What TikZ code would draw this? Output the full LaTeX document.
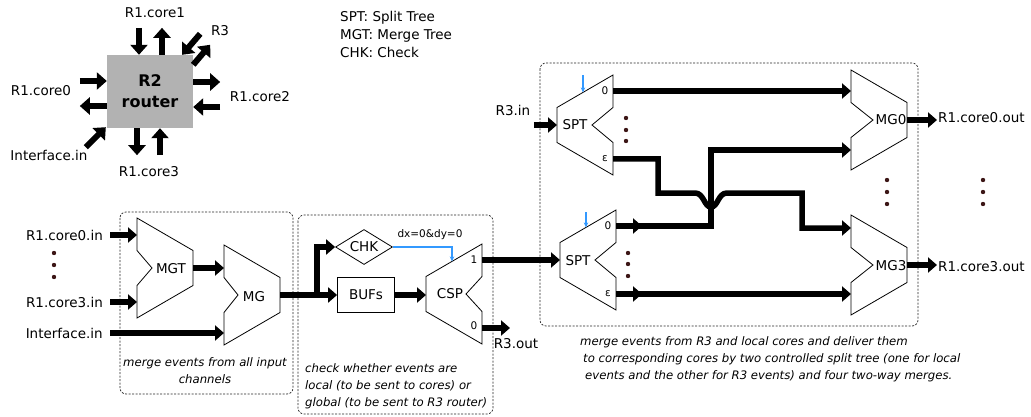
\documentclass[tikz,border=0pt]{standalone}
\usepackage{fontspec}
\setmainfont{DejaVu Sans}
\usetikzlibrary{arrows.meta,positioning,shapes.geometric}
\definecolor{ctrlblue}{RGB}{51,153,255}
\definecolor{dotcol}{RGB}{60,22,22}
\newcommand{\portfont}{\fontsize{10.5}{12}\selectfont}
\newcommand{\remarkfont}{\fontsize{11.7}{17}\selectfont\itshape}
\tikzset{
  font=\fontsize{13.5}{18}\selectfont,
  bus/.style={line width=5.5pt},
  busarrow/.style={bus,-{Triangle[length=9pt,width=15pt]}},
  routerarrow/.style={line width=6pt,-{Triangle[length=10pt,width=17pt]}},
  shapeline/.style={line width=0.8pt},
  ctrl/.style={ctrlblue,line width=1.1pt,-{Stealth[length=5pt,width=4.5pt]}},
  groupbox/.style={draw=black!85,line width=0.7pt,dash pattern=on 2pt off 1.5pt,rounded corners=6pt},
  portlbl/.style={font=\portfont,inner sep=0pt},
  remark/.style={font=\remarkfont,inner sep=0pt},
  router/.style={fill=gray!60,minimum width=86pt,minimum height=73pt,align=center,font=\fontsize{16}{21}\selectfont\bfseries},
  chk/.style={diamond,draw,shapeline,aspect=1.6,inner sep=0pt,minimum width=57pt,minimum height=35pt},
  bufbox/.style={rectangle,draw,shapeline,minimum width=57pt,minimum height=35pt},
  pics/mergeshape/.style n args={3}{code={
    \draw[shapeline] (0,-50) -- (56,-17.5) -- (56,17.5) -- (0,50) -- (0,17.5) -- (#1,0) -- (0,-17.5) -- cycle;
    \coordinate (-in1) at (0,#2);
    \coordinate (-in2) at (0,#3);
    \coordinate (-out) at (56,0);
  }},
  pics/splitshape/.style={code={
    \draw[shapeline] (0,-17.5) -- (56,-50) -- (56,-17.5) -- (56-#1,0) -- (56,17.5) -- (56,50) -- (0,17.5) -- cycle;
    \coordinate (-in) at (0,0);
    \coordinate (-out1) at (56,-34);
    \coordinate (-out2) at (56,34);
    \coordinate (-sel) at (26,-32.6);
  }}
}

\begin{document}
\begin{tikzpicture}[x=1pt,y=-1pt]
\useasboundingbox (0,0) rectangle (1031,417);
\node[router] (r2) at (150,91.5) {R2\\router};
\draw[routerarrow] ([xshift=-11pt,yshift=27pt]r2.north) -- ([xshift=-11pt]r2.north);
\draw[routerarrow] ([xshift=12pt]r2.north) -- ([xshift=12pt,yshift=27pt]r2.north);
\draw[routerarrow] ([xshift=-27pt,yshift=10.5pt]r2.west) -- ([yshift=10.5pt]r2.west);
\draw[routerarrow] ([yshift=-14.5pt]r2.west) -- ([xshift=-27pt,yshift=-14.5pt]r2.west);
\draw[routerarrow] ([yshift=9.5pt]r2.east) -- ([xshift=27pt,yshift=9.5pt]r2.east);
\draw[routerarrow] ([xshift=27pt,yshift=-15.5pt]r2.east) -- ([yshift=-15.5pt]r2.east);
\draw[routerarrow] ([xshift=-13pt]r2.south) -- ([xshift=-13pt,yshift=-27pt]r2.south);
\draw[routerarrow] ([xshift=10pt,yshift=-27pt]r2.south) -- ([xshift=10pt]r2.south);
\draw[routerarrow] ([xshift=7pt,yshift=21pt]r2.north east) -- ([xshift=-11pt]r2.north east);
\draw[routerarrow] ([yshift=-10pt]r2.north east) -- ([xshift=17pt,yshift=10pt]r2.north east);
\draw[routerarrow] ([xshift=-21pt,yshift=-19pt]r2.south west) -- ([xshift=-1pt,yshift=1pt]r2.south west);
\node (lc1) at (155,13) {R1.core1};
\node (lr3) at (220,31) {R3};
\node (lc0) at (41,91) {R1.core0};
\node (lc2) at (260,97) {R1.core2};
\node (lif) at (49,155) {Interface.in};
\node (lc3) at (149,172) {R1.core3};
\node[anchor=west,align=left,inner sep=0pt] (legend) at (340,34) {SPT: Split Tree\\MGT: Merge Tree\\CHK: Check};

\draw[groupbox] (120,212) rectangle (293,394);
\draw[groupbox] (298,215) rectangle (493,414);
\draw[groupbox] (540,63) rectangle (918,326);

\pic (mgt) at (137,268) {mergeshape={15}{-33}{34}};
\pic (mg) at (224,295) {mergeshape={14}{-27}{38}};
\node (mgtlbl) at (171,269) {MGT};
\node (mglbl) at (254,297) {MG};
\node[anchor=east,inner sep=0pt] (c0in) at (103,235) {R1.core0.in};
\node[anchor=east,inner sep=0pt] (c3in) at (103,302) {R1.core3.in};
\node[anchor=east,inner sep=0pt] (ifin) at (103,333) {Interface.in};
\foreach \y in {253,265,277} \fill[dotcol] (54,\y) circle (2.2pt);
\draw[busarrow] ([xshift=7pt]c0in.east) -- (mgt-in1);
\draw[busarrow] ([xshift=7pt]c3in.east) -- (mgt-in2);
\draw[busarrow] ([xshift=7pt]ifin.east) -- (mg-in2);
\draw[busarrow] (mgt-out) -- (mgt-out -| mg-in1);
\node[remark,align=center] (remark1) at (205,371) {merge events from all input\\channels};

\node[chk] (chk) at (364,247) {CHK};
\node[bufbox] (bufs) at (366,295) {BUFs};
\pic (csp) at (426,294) {splitshape=16};
\node (csplbl) at (450,294) {CSP};
\coordinate (fork) at (317,295);
\draw[bus] (mg-out) -- (fork);
\draw[busarrow] (fork) |- (chk.west);
\draw[busarrow] (fork) -- (bufs.west);
\draw[busarrow] (bufs.east) -- (bufs.east -| csp-in);
\draw[ctrl] (chk.east) -| (csp-sel);
\node[portlbl] (cond) at (430,235) {dx=0\&dy=0};
\node[portlbl] (csp1) at ([xshift=-8pt]csp-out1) {1};
\node[portlbl] (csp0) at ([xshift=-8pt,yshift=2pt]csp-out2) {0};
\draw[busarrow] (csp-out2) -- ++(28,0) coordinate (r3end);
\node (r3out) at (516,344) {R3.out};
\node[remark,align=left,anchor=west] (remark2) at (305,386) {check whether events are\\local (to be sent to cores) or\\global (to be sent to R3 router)};

\pic (spta) at (557,125) {splitshape=21};
\pic (sptb) at (560,260) {splitshape=21};
\node (sptalbl) at (575,125) {SPT};
\node (sptblbl) at (578,261) {SPT};
\node[portlbl] (spta0) at ([xshift=-8pt]spta-out1) {0};
\node[portlbl] (spta1) at ([xshift=-8pt]spta-out2) {ε};
\node[portlbl] (sptb0) at ([xshift=-8pt]sptb-out1) {0};
\node[portlbl] (sptb1) at ([xshift=-8pt]sptb-out2) {ε};
\draw[ctrl] ([yshift=17pt]spta-sel) -- (spta-sel);
\draw[ctrl] ([yshift=15pt]sptb-sel) -- (sptb-sel);
\foreach \y in {118,130,141} \fill[dotcol] (626,\y) circle (2.2pt);
\foreach \y in {253,264,276} \fill[dotcol] (628,\y) circle (2.2pt);
\node (r3in) at (513,110) {R3.in};
\draw[busarrow] (r3in.east |- spta-in) -- (spta-in);
\draw[busarrow] (csp-out1) -- (sptb-in);

\pic (mgz) at (851,120) {mergeshape={22}{-28}{30}};
\pic (mgc) at (851,265) {mergeshape={22}{-37}{31}};
\node (mgzlbl) at (891,120) {MG0};
\node (mgclbl) at (891,266) {MG3};
\draw[busarrow] (spta-out1) -- (spta-out1 -| mgz-in1);
\draw[busarrow] (spta-out2) -| (658,193) -- (695,193) .. controls (704,193) and (704,207) .. (711,207) .. controls (718,207) and (718,193) .. (727,193) -| (802,228) -- (mgc-in1);
\draw[busarrow] (sptb-out1) -| (711,150) -- (mgz-in2);
\draw[busarrow] (sptb-out1) -- ++(26,0);
\draw[busarrow] (sptb-out2) -- (sptb-out2 -| mgc-in2);
\draw[busarrow] (sptb-out2) -- ++(26,0);
\node[anchor=west,inner sep=1pt] (c0out) at (937,118) {R1.core0.out};
\node[anchor=west,inner sep=1pt] (c3out) at (937,267) {R1.core3.out};
\draw[busarrow] (mgz-out) -- (mgz-out -| c0out.west);
\draw[busarrow] (mgc-out) -- (mgc-out -| c3out.west);
\foreach \y in {180,192,204} {\fill[dotcol] (887,\y) circle (2.2pt); \fill[dotcol] (983,\y) circle (2.2pt);}
\node[remark,align=left,anchor=west] (remark3) at (580,359) {merge events from R3 and local cores and deliver them\\\hspace*{3pt}to corresponding cores by two controlled split tree (one for local\\\hspace*{5pt}events and the other for R3 events) and four two-way merges.};
\end{tikzpicture}
\end{document}
